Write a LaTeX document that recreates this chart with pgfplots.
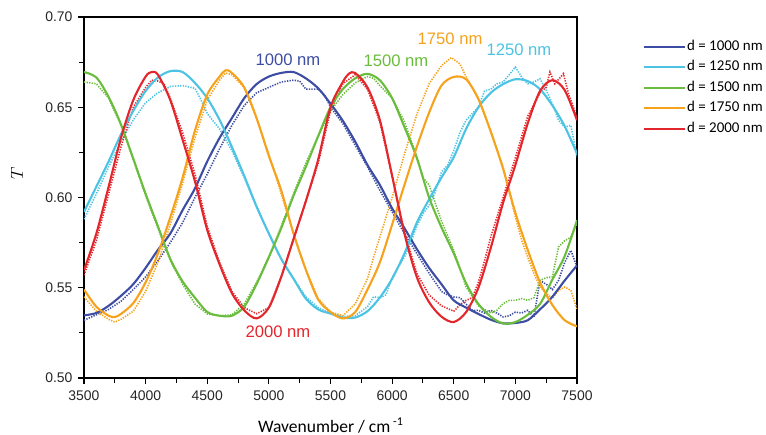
\documentclass[border=0pt]{standalone}
\usepackage{pgfplots}
\pgfplotsset{compat=1.18}
\usepackage{fontspec}
\setmainfont{Liberation Sans}
\newfontfamily\carlito{Carlito}
\definecolor{blueC}{HTML}{3D4DA3}
\definecolor{cyanC}{HTML}{4CC3E3}
\definecolor{greenC}{HTML}{6ABD3C}
\definecolor{orangeC}{HTML}{F6A21C}
\definecolor{redC}{HTML}{E3262B}
\begin{document}
\begin{tikzpicture}
\useasboundingbox (-84bp,-57bp) rectangle (682bp,378bp);
\begin{axis}[
  at={(0,0)}, anchor=south west,
  scale only axis, width=493bp, height=361bp,
  xmin=3500, xmax=7500, ymin=0.5, ymax=0.7,
  xtick={3500,4000,4500,5000,5500,6000,6500,7000,7500},
  ytick={0.50,0.55,0.60,0.65,0.70},
  minor x tick num=1, minor y tick num=1,
  xtick pos=bottom, ytick pos=left,
  tick align=outside,
  major tick length=6bp, minor tick length=5bp,
  every tick/.style={black, line width=1.1bp},
  axis line style={black, line width=1.3bp},
  /pgf/number format/assume math mode=true,
  tick label style={font=\fontsize{14}{14}\selectfont, text=black!85},
  xticklabel style={/pgf/number format/1000 sep={}, yshift=-3bp},
  yticklabel style={xshift=-2bp, /pgf/number format/fixed, /pgf/number format/fixed zerofill, /pgf/number format/precision=2},
  xlabel={\carlito\fontsize{17.6}{17.6}\selectfont Wavenumber / cm\,\raisebox{0.75ex}{\fontsize{12}{12}\selectfont -1}},
  xlabel style={at={(axis description cs:0.5,0)}, anchor=base, yshift=-54bp},
  ylabel={\fontsize{18}{18}\selectfont $T$},
  ylabel style={at={(axis description cs:-0.136,0.568)}, anchor=center},
  legend image code/.code={\draw[#1] (0bp,0bp) -- (41bp,0bp);},
  legend cell align=left,
  legend style={draw=none, fill=none, at={(axis description cs:1.128,0.947)}, anchor=north west,
    font=\carlito\fontsize{15}{15}\selectfont, row sep=4bp,
    nodes={inner sep=0.8bp, text height=11bp, text depth=4bp}},
  clip=true,
]
\addlegendimage{blueC, line width=2.1bp}\addlegendentry{d = 1000 nm}
\addlegendimage{cyanC, line width=2.1bp}\addlegendentry{d = 1250 nm}
\addlegendimage{greenC, line width=2.1bp}\addlegendentry{d = 1500 nm}
\addlegendimage{orangeC, line width=2.1bp}\addlegendentry{d = 1750 nm}
\addlegendimage{redC, line width=2.1bp}\addlegendentry{d = 2000 nm}

% ---- dotted (measured) ----
\addplot[forget plot, blueC, line width=1.6bp, dash pattern=on 1.3bp off 1.3bp] coordinates {
(3500,.532) (3600,.535) (3700,.538) (3800,.5425) (3900,.549) (4000,.556) (4100,.565) (4200,.575) (4300,.586) (4400,.600) (4500,.613) (4600,.627) (4700,.640) (4800,.651) (4900,.658) (5000,.661) (5100,.664) (5200,.665) (5250,.6645) (5300,.660) (5400,.660) (5450,.657) (5500,.650) (5600,.641) (5700,.629) (5800,.617) (5900,.604) (6000,.592) (6100,.580) (6200,.569) (6300,.558) (6400,.548) (6450,.546) (6500,.5449) (6550,.5445) (6600,.5410) (6650,.5375) (6700,.5375) (6750,.5360) (6800,.5375) (6850,.5360) (6900,.5338) (6950,.5345) (7000,.5365) (7050,.5360) (7100,.5375) (7150,.5338) (7200,.554) (7250,.5520) (7300,.549) (7350,.5540) (7400,.5640) (7450,.5707) (7500,.5615)};
\addplot[forget plot, cyanC, line width=1.6bp, dash pattern=on 1.3bp off 1.3bp] coordinates {
(3500,.588) (3600,.602) (3700,.617) (3800,.631) (3900,.643) (4000,.6525) (4100,.658) (4200,.6615) (4300,.662) (4400,.6605) (4450,.654) (4500,.6465) (4600,.638) (4700,.626) (4800,.611) (4900,.595) (5000,.580) (5100,.566) (5200,.555) (5300,.545) (5400,.539) (5500,.5357) (5600,.534) (5700,.5345) (5800,.5395) (5850,.545) (5900,.5445) (5950,.546) (6000,.5555) (6050,.5615) (6100,.567) (6150,.575) (6200,.584) (6250,.591) (6300,.5955) (6350,.603) (6400,.614) (6450,.618) (6500,.626) (6550,.636) (6600,.6428) (6650,.6465) (6700,.650) (6750,.659) (6800,.660) (6850,.663) (6900,.664) (6950,.668) (7000,.6723) (7050,.6668) (7100,.663) (7150,.6640) (7200,.6658) (7250,.6594) (7300,.6520) (7350,.6428) (7400,.639) (7450,.6400) (7500,.6224)};
\addplot[forget plot, greenC, line width=1.6bp, dash pattern=on 1.3bp off 1.3bp] coordinates {
(3500,.664) (3600,.663) (3700,.655) (3800,.640) (3900,.621) (4000,.601) (4100,.583) (4200,.565) (4300,.552) (4400,.541) (4500,.5355) (4600,.5345) (4700,.535) (4800,.541) (4900,.553) (5000,.567) (5100,.584) (5200,.602) (5300,.619) (5400,.634) (5500,.648) (5600,.657) (5700,.6635) (5800,.667) (5850,.666) (5900,.662) (6000,.655) (6100,.642) (6200,.6225) (6250,.611) (6300,.607) (6400,.587) (6500,.5707) (6600,.5505) (6700,.540) (6800,.536) (6850,.5375) (6900,.5412) (6950,.5430) (7000,.5430) (7050,.5440) (7100,.5430) (7150,.5445) (7200,.5540) (7250,.5556) (7300,.5560) (7350,.5726) (7400,.5760) (7450,.5780) (7500,.5855)};
\addplot[forget plot, orangeC, line width=1.6bp, dash pattern=on 1.3bp off 1.3bp] coordinates {
(3500,.545) (3600,.537) (3700,.5325) (3750,.531) (3800,.5325) (3900,.537) (4000,.548) (4100,.564) (4200,.585) (4300,.608) (4400,.633) (4500,.654) (4600,.665) (4650,.669) (4700,.668) (4800,.661) (4900,.644) (5000,.624) (5100,.602) (5200,.580) (5300,.560) (5400,.544) (5500,.5366) (5600,.5345) (5700,.541) (5800,.555) (5850,.567) (5900,.578) (6000,.600) (6100,.624) (6200,.646) (6300,.663) (6400,.673) (6480,.6775) (6550,.674) (6600,.667) (6700,.655) (6800,.637) (6900,.617) (7000,.5892) (7050,.5765) (7100,.567) (7150,.558) (7200,.5505) (7250,.5470) (7300,.5440) (7350,.5486) (7400,.5504) (7450,.5486) (7500,.5380)};
\addplot[forget plot, redC, line width=1.6bp, dash pattern=on 1.3bp off 1.3bp] coordinates {
(3500,.557) (3600,.576) (3700,.602) (3800,.628) (3900,.650) (4000,.661) (4050,.665) (4100,.6645) (4150,.663) (4200,.655) (4300,.636) (4400,.613) (4500,.584) (4600,.564) (4700,.548) (4800,.539) (4900,.5356) (5000,.539) (5100,.556) (5200,.577) (5300,.598) (5400,.619) (5500,.648) (5600,.663) (5700,.668) (5800,.660) (5900,.642) (6000,.612) (6100,.581) (6200,.558) (6300,.546) (6400,.540) (6500,.537) (6550,.5405) (6600,.543) (6650,.5445) (6700,.553) (6750,.565) (6800,.578) (6900,.600) (7000,.622) (7100,.645) (7200,.658) (7250,.661) (7280,.6695) (7320,.663) (7390,.6686) (7430,.6576) (7500,.6446)};

% ---- solid (calculated) ----
\addplot[forget plot, blueC, line width=2.1bp, smooth] coordinates {
(3500,.5347) (3600,.536) (3700,.540) (3800,.5455) (3900,.552) (4000,.561) (4100,.571) (4200,.580) (4300,.593) (4400,.605) (4500,.620) (4600,.633) (4700,.644) (4800,.655) (4900,.6628) (5000,.667) (5100,.6690) (5200,.6695) (5300,.666) (5400,.6605) (5500,.652) (5600,.6425) (5700,.631) (5800,.618) (5900,.607) (6000,.594) (6100,.583) (6200,.5715) (6300,.561) (6400,.552) (6500,.543) (6600,.539) (6700,.5355) (6800,.5323) (6900,.5303) (7000,.5305) (7100,.532) (7200,.538) (7300,.545) (7400,.554) (7500,.5624)};
\addplot[forget plot, cyanC, line width=2.1bp, smooth] coordinates {
(3500,.592) (3600,.606) (3700,.620) (3800,.635) (3900,.648) (4000,.659) (4100,.6665) (4200,.670) (4300,.6695) (4400,.6635) (4500,.655) (4600,.643) (4700,.628) (4800,.612) (4900,.595) (5000,.580) (5100,.566) (5200,.555) (5300,.544) (5400,.538) (5500,.5357) (5600,.5335) (5700,.5335) (5800,.537) (5900,.5445) (6000,.555) (6100,.569) (6200,.586) (6300,.599) (6400,.611) (6500,.6224) (6600,.638) (6700,.650) (6800,.658) (6900,.6628) (7000,.6655) (7100,.6645) (7200,.660) (7300,.651) (7400,.6395) (7500,.6243)};
\addplot[forget plot, greenC, line width=2.1bp, smooth] coordinates {
(3500,.6695) (3600,.6665) (3700,.6557) (3800,.6405) (3900,.6215) (4000,.602) (4100,.584) (4200,.566) (4300,.5535) (4400,.5445) (4500,.5366) (4600,.5345) (4700,.5345) (4800,.5395) (4900,.552) (5000,.567) (5100,.583) (5200,.601) (5300,.617) (5400,.634) (5500,.650) (5600,.660) (5700,.666) (5800,.6685) (5900,.665) (6000,.655) (6100,.639) (6200,.622) (6300,.600) (6400,.5835) (6500,.569) (6600,.5525) (6700,.541) (6800,.534) (6900,.5302) (7000,.531) (7100,.535) (7200,.541) (7300,.5545) (7400,.5675) (7500,.5874)};
\addplot[forget plot, orangeC, line width=2.1bp, smooth] coordinates {
(3500,.549) (3600,.5395) (3700,.5345) (3750,.5338) (3800,.5355) (3900,.5415) (4000,.553) (4100,.569) (4200,.589) (4300,.611) (4400,.637) (4500,.657) (4600,.667) (4650,.6705) (4700,.669) (4800,.661) (4900,.644) (5000,.623) (5100,.604) (5200,.580) (5300,.560) (5400,.5435) (5500,.5366) (5600,.533) (5700,.5365) (5800,.549) (5900,.564) (6000,.585) (6100,.607) (6200,.628) (6300,.647) (6400,.662) (6500,.6668) (6600,.6655) (6700,.6545) (6800,.6365) (6900,.616) (7000,.5915) (7100,.571) (7200,.553) (7300,.5405) (7400,.532) (7500,.5286)};
\addplot[forget plot, redC, line width=2.1bp, smooth] coordinates {
(3500,.5597) (3600,.580) (3700,.606) (3800,.633) (3900,.654) (4000,.667) (4050,.6695) (4100,.668) (4200,.654) (4300,.632) (4400,.609) (4500,.582) (4600,.563) (4700,.547) (4800,.5375) (4900,.533) (5000,.539) (5100,.556) (5200,.577) (5300,.598) (5400,.621) (5500,.650) (5600,.664) (5650,.6686) (5700,.669) (5800,.661) (5900,.643) (6000,.612) (6100,.580) (6200,.556) (6300,.542) (6400,.534) (6500,.531) (6600,.5365) (6700,.5500) (6800,.572) (6900,.597) (7000,.618) (7100,.641) (7200,.659) (7300,.665) (7400,.6595) (7500,.6428)};

\node[text=blueC, font=\fontsize{16.7}{16.7}\selectfont] at (axis cs:5155,0.6762) {1000 nm};
\node[text=cyanC, font=\fontsize{16.7}{16.7}\selectfont] at (axis cs:7029,0.682) {1250 nm};
\node[text=greenC, font=\fontsize{16.7}{16.7}\selectfont] at (axis cs:6031,0.6756) {1500 nm};
\node[text=orangeC, font=\fontsize{16.7}{16.7}\selectfont] at (axis cs:6470,0.6878) {1750 nm};
\node[text=redC, font=\fontsize{16.7}{16.7}\selectfont] at (axis cs:5074,0.5255) {2000 nm};
\end{axis}
\end{tikzpicture}
\end{document}
